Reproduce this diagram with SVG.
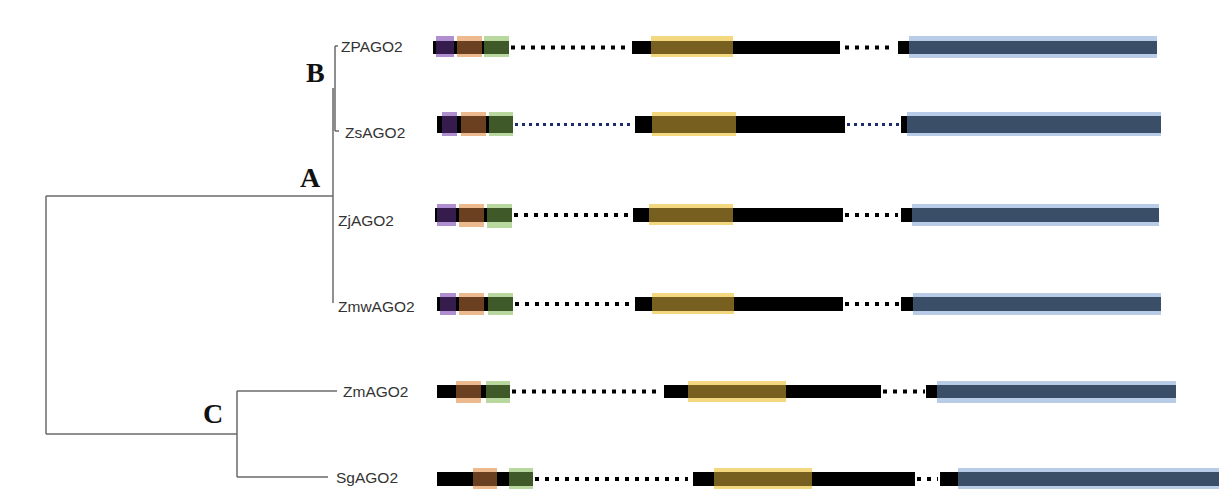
<svg xmlns="http://www.w3.org/2000/svg" width="1232" height="500" viewBox="0 0 1232 500">
<style>
.tree{fill:none;stroke:#6b6b6b;stroke-width:1.5}
.clade{font-family:"Liberation Serif","Times New Roman",serif;font-weight:bold;font-size:28px;fill:#111}
.lbl{font-family:"Liberation Sans",Arial,sans-serif;font-size:15.5px;fill:#333}
.bar{fill:#000}
.dots{fill:none;stroke:#000;stroke-width:4;stroke-dasharray:4 6}
.ndots{fill:none;stroke:#1c2a6e;stroke-width:3;stroke-dasharray:3 4}
.puH{fill:#b08fd0}.puD{fill:#361b4d}
.brH{fill:#edb98f}.brD{fill:#6b4020}
.grH{fill:#b9d8a0}.grD{fill:#3f5a28}
.goH{fill:#f4d880}.goD{fill:#775f1f}
.blH{fill:#b8cce8}.blD{fill:#3a4e68}
</style>
<rect width="1232" height="500" fill="#fff"/>
<g id="connectors">
<path class="tree" d="M46,196 H333 M46,196 V434 M46,434 H237 M237,391 V477 M237,391 H337 M237,477 H328"/>
<path class="tree" d="M333,88 V303"/>
<path class="tree" d="M335,46 V131 M335,46 H338 M335,131 H339" stroke-width="1.2"/>
<path d="M333.5,88 V131" stroke="#8a8a8a" stroke-width="2.5" fill="none"/>
</g>
<g id="clade-labels">
<text class="clade" x="306" y="82">B</text>
<text class="clade" x="300" y="187">A</text>
<text class="clade" x="203" y="423">C</text>
</g>
<g id="ZPAGO2">
<text class="lbl" x="341" y="52">ZPAGO2</text>
<rect class="bar" x="433" y="41" width="76" height="13"/>
<rect class="puH" x="436" y="36" width="18" height="21"/><rect class="puD" x="436" y="41" width="18" height="13"/>
<rect class="brH" x="457" y="36" width="25" height="21"/><rect class="brD" x="457" y="41" width="25" height="13"/>
<rect class="grH" x="484" y="36" width="25" height="21"/><rect class="grD" x="484" y="41" width="25" height="13"/>
<path class="dots" d="M511,47.5 H627"/>
<rect class="bar" x="632" y="41" width="208" height="13"/>
<rect class="goH" x="651" y="36" width="82" height="21"/><rect class="goD" x="651" y="41" width="82" height="13"/>
<path class="dots" d="M845,47.5 H893"/>
<rect class="bar" x="898" y="41" width="259" height="13"/>
<rect class="blH" x="909" y="36" width="248" height="22"/><rect class="blD" x="909" y="41" width="248" height="13"/>
</g>
<g id="ZsAGO2">
<text class="lbl" x="345" y="138">ZsAGO2</text>
<rect class="bar" x="437" y="116" width="76" height="17"/>
<rect class="puH" x="442" y="112" width="15" height="24"/><rect class="puD" x="442" y="116" width="15" height="17"/>
<rect class="brH" x="461" y="112" width="25" height="24"/><rect class="brD" x="461" y="116" width="25" height="17"/>
<rect class="grH" x="489" y="112" width="24" height="24"/><rect class="grD" x="489" y="116" width="24" height="17"/>
<path class="ndots" d="M515,124.5 H632"/>
<rect class="bar" x="635" y="116" width="210" height="17"/>
<rect class="goH" x="652" y="112" width="84" height="24"/><rect class="goD" x="652" y="116" width="84" height="17"/>
<path class="ndots" d="M847,124.5 H900"/>
<rect class="bar" x="901" y="116" width="260" height="17"/>
<rect class="blH" x="907" y="112" width="254" height="24"/><rect class="blD" x="907" y="116" width="254" height="17"/>
</g>
<g id="ZjAGO2">
<text class="lbl" x="338" y="226">ZjAGO2</text>
<rect class="bar" x="435" y="208" width="77" height="14"/>
<rect class="puH" x="437" y="204" width="19" height="22"/><rect class="puD" x="437" y="208" width="19" height="14"/>
<rect class="brH" x="459" y="204" width="25" height="23"/><rect class="brD" x="459" y="208" width="25" height="14"/>
<rect class="grH" x="487" y="204" width="25" height="24"/><rect class="grD" x="487" y="208" width="25" height="14"/>
<path class="dots" d="M514,215 H632"/>
<rect class="bar" x="633" y="208" width="210" height="14"/>
<rect class="goH" x="649" y="204" width="84" height="21"/><rect class="goD" x="649" y="208" width="84" height="14"/>
<path class="dots" d="M845,215 H898"/>
<rect class="bar" x="901" y="208" width="258" height="14"/>
<rect class="blH" x="912" y="204" width="247" height="22"/><rect class="blD" x="912" y="208" width="247" height="14"/>
</g>
<g id="ZmwAGO2">
<text class="lbl" x="338" y="312">ZmwAGO2</text>
<rect class="bar" x="437" y="297" width="76" height="14"/>
<rect class="puH" x="440" y="293" width="16" height="22"/><rect class="puD" x="440" y="297" width="16" height="14"/>
<rect class="brH" x="459" y="293" width="25" height="22"/><rect class="brD" x="459" y="297" width="25" height="14"/>
<rect class="grH" x="488" y="293" width="25" height="22"/><rect class="grD" x="488" y="297" width="25" height="14"/>
<path class="dots" d="M515,304 H633"/>
<rect class="bar" x="635" y="297" width="208" height="14"/>
<rect class="goH" x="652" y="293" width="82" height="21"/><rect class="goD" x="652" y="297" width="82" height="14"/>
<path class="dots" d="M845,304 H899"/>
<rect class="bar" x="901" y="297" width="260" height="14"/>
<rect class="blH" x="913" y="293" width="248" height="22"/><rect class="blD" x="913" y="297" width="248" height="14"/>
</g>
<g id="ZmAGO2">
<text class="lbl" x="343" y="397">ZmAGO2</text>
<rect class="bar" x="437" y="385" width="73" height="13"/>
<rect class="brH" x="456" y="381" width="25" height="22"/><rect class="brD" x="456" y="385" width="25" height="13"/>
<rect class="grH" x="486" y="381" width="24" height="22"/><rect class="grD" x="486" y="385" width="24" height="13"/>
<path class="dots" d="M512,391.5 H662"/>
<rect class="bar" x="664" y="385" width="217" height="13"/>
<rect class="goH" x="688" y="381" width="98" height="21"/><rect class="goD" x="688" y="385" width="98" height="13"/>
<path class="dots" d="M883,391.5 H925"/>
<rect class="bar" x="926" y="385" width="250" height="13"/>
<rect class="blH" x="937" y="381" width="239" height="22"/><rect class="blD" x="937" y="385" width="239" height="13"/>
</g>
<g id="SgAGO2">
<text class="lbl" x="336" y="483">SgAGO2</text>
<rect class="bar" x="437" y="472" width="96" height="14"/>
<rect class="brH" x="473" y="468" width="24" height="21"/><rect class="brD" x="473" y="472" width="24" height="14"/>
<rect class="grH" x="509" y="468" width="24" height="21"/><rect class="grD" x="509" y="472" width="24" height="14"/>
<path class="dots" d="M535,479 H688"/>
<rect class="bar" x="693" y="472" width="222" height="14"/>
<rect class="goH" x="714" y="468" width="98" height="21"/><rect class="goD" x="714" y="472" width="98" height="14"/>
<path class="dots" d="M917,479 H938"/>
<rect class="bar" x="940" y="472" width="279" height="14"/>
<rect class="blH" x="958" y="468" width="261" height="21"/><rect class="blD" x="958" y="472" width="261" height="14"/>
</g>
</svg>
